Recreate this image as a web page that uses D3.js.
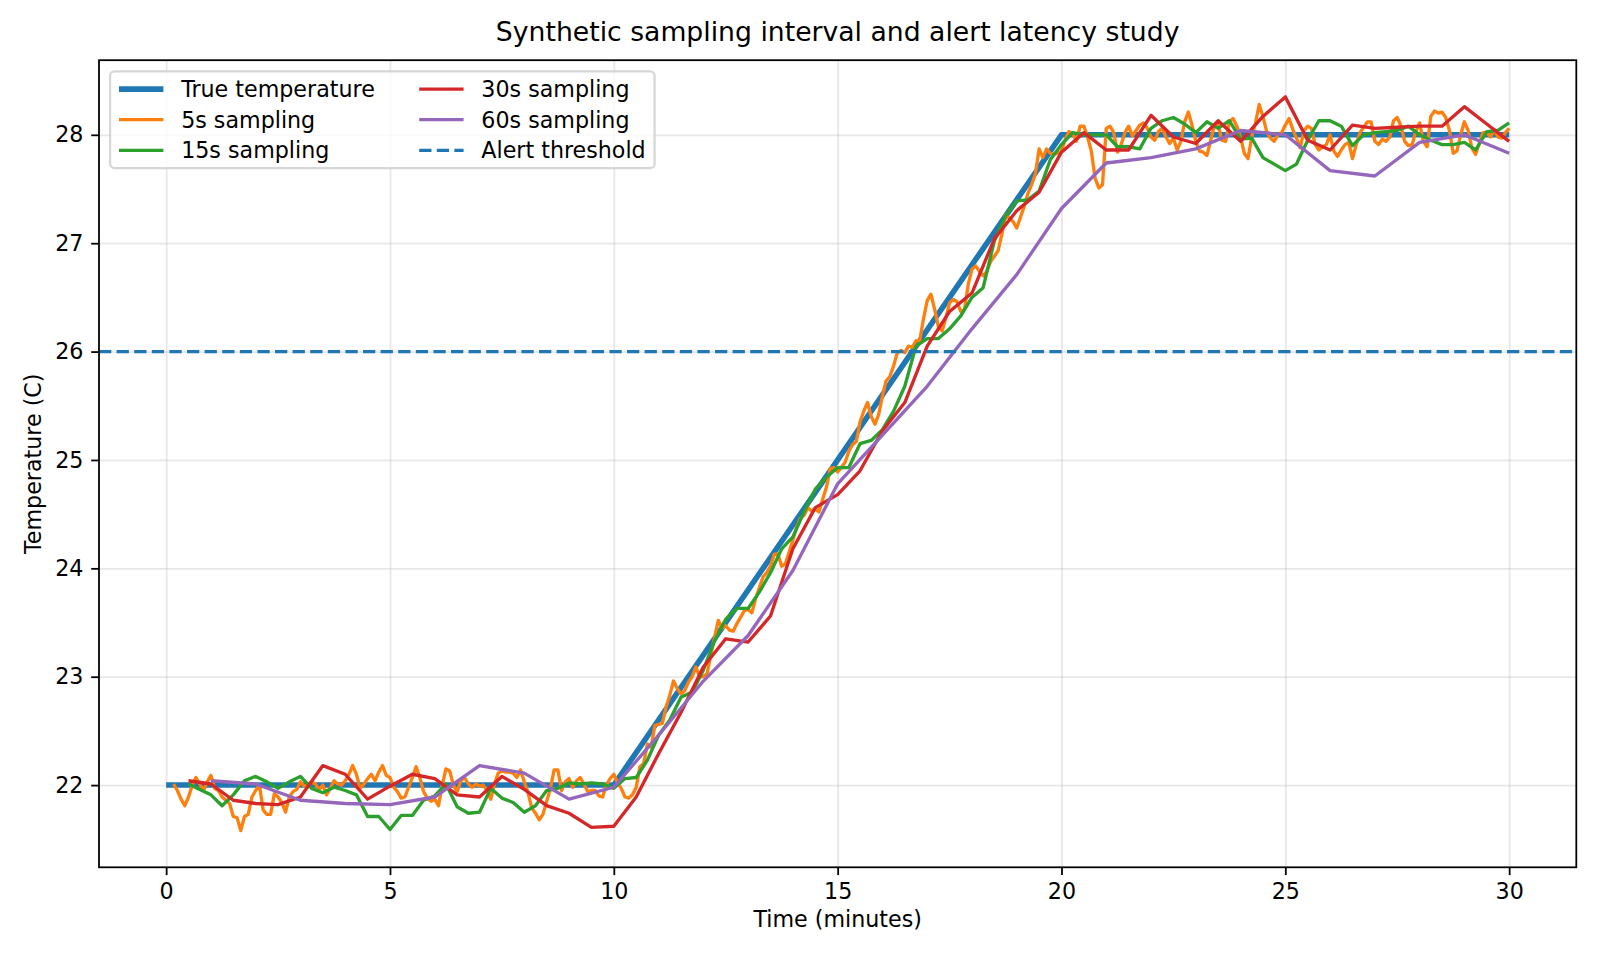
<!DOCTYPE html>
<html>
<head>
<meta charset="utf-8">
<script src="https://cdn.jsdelivr.net/npm/d3@7"></script>
<style>
  body { margin: 0; background: #fff; }
  svg { font-family: "DejaVu Sans", sans-serif; }
  .gridlines line { stroke: #b0b0b0; stroke-opacity: 0.3; stroke-width: 1.78; }
  .gridlines path { display: none; }
  .axis path, .axis line { stroke: #000; stroke-width: 1.78; }
  .axis text { font-size: 22.2px; fill: #000; font-family: "DejaVu Sans", sans-serif; }
</style>
</head>
<body>
<svg id="chart" width="1600" height="960"></svg>
<script>
// ----- data -----

// true temperature (breakpoints, minutes / C)
const trueTimes = [0, 10, 20, 30];
const trueTemps = [22, 22, 28, 28];

const alertThreshold = 26;

// 5s sampling: first reading at 10 s, then every 5 s
const start5s = 10, step5s = 5;
const temps5s = [
  22.01, 21.95, 21.87, 21.81, 21.89, 22.00, 22.07, 22.01, 21.95, 22.03,
  22.09, 21.97, 21.95, 21.89, 21.86, 21.83, 21.71, 21.70, 21.58, 21.71,
  21.73, 21.89, 21.95, 22.00, 21.77, 21.73, 21.73, 21.92, 21.89, 21.84,
  21.75, 21.89, 21.94, 21.96, 22.03, 21.99, 22.00, 22.03, 22.01, 21.96,
  22.00, 21.91, 21.97, 22.04, 22.01, 22.00, 22.04, 22.10, 22.18, 22.10,
  21.97, 22.01, 22.06, 22.10, 22.04, 22.12, 22.18, 22.09, 22.07, 21.98,
  21.94, 21.88, 21.89, 21.98, 22.07, 22.17, 22.07, 21.94, 21.88, 21.85,
  21.87, 21.81, 22.00, 22.15, 22.13, 22.00, 21.94, 22.04, 22.07, 22.01,
  21.98, 22.01, 21.99, 22.00, 21.95, 21.87, 22.01, 22.11, 22.13, 22.12,
  22.12, 22.11, 22.07, 22.14, 22.03, 21.93, 21.79, 21.74, 21.68, 21.73,
  21.85, 21.97, 22.14, 22.14, 21.95, 22.03, 22.06, 21.98, 22.04, 22.07,
  22.01, 21.94, 21.95, 21.95, 21.90, 21.89, 22.00, 22.06, 22.10, 22.02,
  21.97, 21.89, 21.88, 21.91, 21.98, 22.17, 22.20, 22.38, 22.35, 22.55,
  22.56, 22.57, 22.72, 22.83, 22.96, 22.89, 22.84, 22.87, 22.95, 23.00,
  23.09, 23.00, 23.00, 23.03, 23.20, 23.36, 23.52, 23.45, 23.47, 23.43,
  23.42, 23.49, 23.55, 23.61, 23.62, 23.59, 23.72, 23.82, 23.92, 23.96,
  24.02, 24.13, 24.13, 24.02, 24.04, 24.15, 24.26, 24.38, 24.46, 24.49,
  24.56, 24.53, 24.55, 24.52, 24.64, 24.75, 24.92, 24.93, 24.89, 24.93,
  24.98, 25.08, 25.14, 25.17, 25.35, 25.45, 25.53, 25.40, 25.33, 25.42,
  25.59, 25.73, 25.77, 25.87, 25.99, 26.01, 25.99, 26.05, 26.04, 26.10,
  26.10, 26.30, 26.47, 26.53, 26.39, 26.23, 26.19, 26.31, 26.45, 26.48,
  26.46, 26.37, 26.39, 26.62, 26.76, 26.79, 26.74, 26.70, 26.74, 26.83,
  26.88, 26.93, 27.08, 27.26, 27.23, 27.20, 27.14, 27.24, 27.34, 27.46,
  27.54, 27.64, 27.87, 27.79, 27.87, 27.83, 27.82, 27.83, 27.85, 27.96,
  28.03, 28.01, 27.94, 28.08, 28.08, 27.98, 27.85, 27.60, 27.51, 27.54,
  28.06, 28.08, 28.02, 27.84, 27.91, 28.02, 28.08, 27.99, 28.04, 28.09,
  28.11, 28.06, 27.98, 27.95, 28.03, 28.06, 27.98, 27.92, 27.97, 27.86,
  27.94, 28.12, 28.21, 28.09, 27.94, 27.85, 27.84, 27.81, 27.95, 28.09,
  28.09, 27.95, 27.94, 28.12, 28.15, 28.08, 27.98, 27.83, 27.78, 27.98,
  28.11, 28.28, 28.17, 28.03, 27.97, 27.94, 28.00, 28.02, 28.09, 28.15,
  28.05, 27.97, 27.88, 28.04, 28.08, 28.06, 27.91, 27.86, 27.89, 27.91,
  28.00, 27.85, 27.80, 27.86, 27.91, 27.93, 27.78, 27.91, 28.02, 28.07,
  28.12, 28.12, 27.94, 27.91, 27.96, 27.94, 27.98, 28.13, 28.16, 28.08,
  27.94, 27.90, 27.91, 28.03, 28.11, 27.94, 27.89, 28.17, 28.22, 28.20,
  28.21, 28.16, 28.04, 27.83, 27.85, 28.00, 28.12, 28.04, 27.88, 27.82,
  27.92, 28.02, 28.02, 27.98, 28.05, 27.98, 27.97, 28.02, 28.06
];

// 15s sampling: first reading at 30 s
const start15s = 30, step15s = 15;
const temps15s = [
  22.01, 21.96, 21.91, 21.81, 21.91, 22.04, 22.08, 22.03, 21.97, 22.03,
  22.08, 21.97, 21.93, 21.98, 21.95, 21.91, 21.71, 21.71, 21.59, 21.72,
  21.72, 21.86, 21.90, 22.01, 21.80, 21.74, 21.75, 21.97, 21.88, 21.84,
  21.75, 21.81, 21.95, 21.97, 22.02, 22.01, 22.02, 22.01, 21.97, 22.06,
  22.07, 22.23, 22.46, 22.60, 22.81, 22.86, 23.06, 23.33, 23.53, 23.63,
  23.63, 23.78, 23.96, 24.18, 24.29, 24.52, 24.73, 24.84, 24.93, 24.93,
  25.15, 25.18, 25.28, 25.45, 25.68, 26.05, 26.12, 26.12, 26.21, 26.33,
  26.50, 26.59, 27.02, 27.25, 27.39, 27.40, 27.48, 27.77, 27.91, 28.02,
  28.00, 28.00, 28.00, 27.89, 27.89, 27.87, 28.06, 28.13, 28.16, 28.10,
  28.02, 28.12, 28.06, 28.13, 27.96, 27.97, 27.79, 27.73, 27.67, 27.73,
  27.95, 28.13, 28.13, 28.08, 27.90, 28.00, 28.02, 28.03, 28.04, 28.08,
  28.00, 27.95, 27.91, 27.91, 27.93, 27.86, 28.03, 28.04, 28.11
];

// 30s sampling: first reading at 30 s
const start30s = 30, step30s = 30;
const temps30s = [
  22.04, 22.01, 21.86, 21.83, 21.82, 21.89, 22.18, 22.10, 21.87, 21.99,
  22.10, 22.06, 21.91, 21.89, 22.08, 21.96, 21.81, 21.74, 21.61, 21.62,
  21.89, 22.29, 22.67, 23.09, 23.35, 23.32, 23.56, 24.18, 24.56, 24.68,
  24.90, 25.27, 25.53, 26.05, 26.37, 26.54, 27.04, 27.30, 27.47, 27.84,
  28.02, 27.86, 27.86, 28.18, 27.98, 27.92, 28.13, 27.94, 28.17, 28.35,
  27.95, 27.86, 28.09, 28.06, 28.07, 28.08, 28.08, 28.26, 28.10, 27.94
];

// 60s sampling: first reading at 60 s
const start60s = 60, step60s = 60;
const temps60s = [
  22.04, 22.01, 21.86, 21.83, 21.82, 21.89, 22.18, 22.11, 21.87, 21.98,
  22.46, 22.96, 23.38, 23.98, 24.78, 25.23, 25.68, 26.21, 26.71, 27.32,
  27.74, 27.79, 27.87, 28.04, 28.00, 27.67, 27.62, 27.93, 28.00, 27.83
];

const xTicks = [0, 5, 10, 15, 20, 25, 30];
const yTicks = [22, 23, 24, 25, 26, 27, 28];

// ----- build series -----
const sampled = (start, step, temps) =>
  temps.map((v, i) => ({ t: (start + step * i) / 60, v: v }));

const series = [
  { label: 'True temperature', color: '#1f77b4', width: 5.56,
    points: trueTimes.map((t, i) => ({ t: t, v: trueTemps[i] })) },
  { label: '5s sampling', color: '#ff7f0e', width: 3.33, points: sampled(start5s, step5s, temps5s) },
  { label: '15s sampling', color: '#2ca02c', width: 3.33, points: sampled(start15s, step15s, temps15s) },
  { label: '30s sampling', color: '#d62728', width: 3.33, points: sampled(start30s, step30s, temps30s) },
  { label: '60s sampling', color: '#9467bd', width: 3.33, points: sampled(start60s, step60s, temps60s) }
];

// ----- svg and margins -----
const svg = d3.select('#chart');
const width = +svg.attr('width');
const height = +svg.attr('height');
const margins = { left: 99, top: 60.2, right: 23.7, bottom: 92.7 };
const chartWidth = width - margins.left - margins.right;
const chartHeight = height - margins.top - margins.bottom;

// ----- scales (matplotlib style 5% padding) -----
const allPoints = series.flatMap(s => s.points);
const tExtent = d3.extent(allPoints, d => d.t);
const vExtent = d3.extent(allPoints, d => d.v);
const tPad = (tExtent[1] - tExtent[0]) * 0.05;
const vPad = (vExtent[1] - vExtent[0]) * 0.05;

const xScale = d3.scaleLinear()
  .domain([tExtent[0] - tPad, tExtent[1] + tPad])
  .range([0, chartWidth]);
const yScale = d3.scaleLinear()
  .domain([vExtent[0] - vPad, vExtent[1] + vPad])
  .range([chartHeight, 0]);

const chart = svg.append('g')
  .attr('transform', `translate(${margins.left}, ${margins.top})`);

// gridlines
chart.append('g')
  .attr('class', 'gridlines')
  .attr('transform', `translate(0, ${chartHeight})`)
  .call(d3.axisBottom(xScale).tickValues(xTicks).tickSize(-chartHeight).tickFormat(''));
chart.append('g')
  .attr('class', 'gridlines')
  .call(d3.axisLeft(yScale).tickValues(yTicks).tickSize(-chartWidth).tickFormat(''));

// clip
svg.append('defs').append('clipPath').attr('id', 'plot-clip')
  .append('rect').attr('width', chartWidth).attr('height', chartHeight);

const plot = chart.append('g').attr('clip-path', 'url(#plot-clip)');

const line = d3.line()
  .x(d => xScale(d.t))
  .y(d => yScale(d.v));

plot.selectAll('path.series')
  .data(series)
  .join('path')
  .attr('class', 'series')
  .attr('d', d => line(d.points))
  .attr('fill', 'none')
  .attr('stroke', d => d.color)
  .attr('stroke-width', d => d.width)
  .attr('stroke-linejoin', 'round')
  .attr('stroke-linecap', d => d.width > 4 ? 'projecting' : 'butt');

// alert threshold (axhline)
plot.append('line')
  .attr('x1', 0).attr('x2', chartWidth)
  .attr('y1', yScale(alertThreshold)).attr('y2', yScale(alertThreshold))
  .attr('stroke', '#1f77b4')
  .attr('stroke-width', 3.33)
  .attr('stroke-dasharray', '12.3,5.3');

// axes
const xAxisG = chart.append('g')
  .attr('class', 'axis')
  .attr('transform', `translate(0, ${chartHeight})`)
  .call(d3.axisBottom(xScale).tickValues(xTicks).tickSize(7.8).tickPadding(7.8).tickFormat(d3.format('d')));
const yAxisG = chart.append('g')
  .attr('class', 'axis')
  .call(d3.axisLeft(yScale).tickValues(yTicks).tickSize(7.8).tickPadding(7.8).tickFormat(d3.format('d')));
xAxisG.select('.domain').remove();
yAxisG.select('.domain').remove();

// spines
chart.append('rect')
  .attr('width', chartWidth).attr('height', chartHeight)
  .attr('fill', 'none').attr('stroke', '#000').attr('stroke-width', 1.78);

// title and labels
svg.append('text')
  .attr('x', margins.left + chartWidth / 2).attr('y', 41)
  .attr('text-anchor', 'middle').attr('font-size', 26.67)
  .text('Synthetic sampling interval and alert latency study');
svg.append('text')
  .attr('x', margins.left + chartWidth / 2).attr('y', 927)
  .attr('text-anchor', 'middle').attr('font-size', 22.2)
  .text('Time (minutes)');
svg.append('text')
  .attr('transform', `translate(40.6, ${margins.top + chartHeight / 2}) rotate(-90)`)
  .attr('text-anchor', 'middle').attr('font-size', 22.2)
  .text('Temperature (C)');

// ----- legend (2 columns, upper left) -----
const legendItems = series.map(s => ({ label: s.label, color: s.color, width: s.width, dash: null }))
  .concat([{ label: 'Alert threshold', color: '#1f77b4', width: 3.33, dash: '12.3,5.3' }]);
const fs = 22.2;
const legend = chart.append('g')
  .attr('transform', `translate(${fs * 0.5}, ${fs * 0.5})`);
const legendBox = legend.append('rect')
  .attr('rx', 4.4).attr('ry', 4.4)
  .attr('fill', '#fff').attr('fill-opacity', 0.8)
  .attr('stroke', '#cccccc').attr('stroke-opacity', 0.8).attr('stroke-width', 2.2);

const rows = 3, rowPitch = 30.6, firstRow = 17.8;
const pad = fs * 0.4, handleLen = fs * 2, handleGap = fs * 0.8, colGap = fs * 2;

const entries = legend.selectAll('g.entry')
  .data(legendItems)
  .join('g')
  .attr('class', 'entry');
entries.append('text')
  .attr('font-size', fs)
  .attr('dominant-baseline', 'central')
  .text(d => d.label);

// width of the first column from the measured labels
const col0Width = d3.max(entries.filter((d, i) => i < rows).select('text').nodes(), n => n.getComputedTextLength());
const col1Width = d3.max(entries.filter((d, i) => i >= rows).select('text').nodes(), n => n.getComputedTextLength());
const colX = [pad, pad + handleLen + handleGap + col0Width + colGap];

entries.attr('transform', (d, i) =>
  `translate(${colX[Math.floor(i / rows)]}, ${firstRow + (i % rows) * rowPitch})`);
entries.select('text').attr('x', handleLen + handleGap);
entries.append('line')
  .attr('x1', 0).attr('x2', handleLen)
  .attr('stroke', d => d.color)
  .attr('stroke-width', d => d.width)
  .attr('stroke-dasharray', d => d.dash);

legendBox
  .attr('width', colX[1] + handleLen + handleGap + col1Width + pad)
  .attr('height', firstRow * 2 + (rows - 1) * rowPitch);
</script>
</body>
</html>
